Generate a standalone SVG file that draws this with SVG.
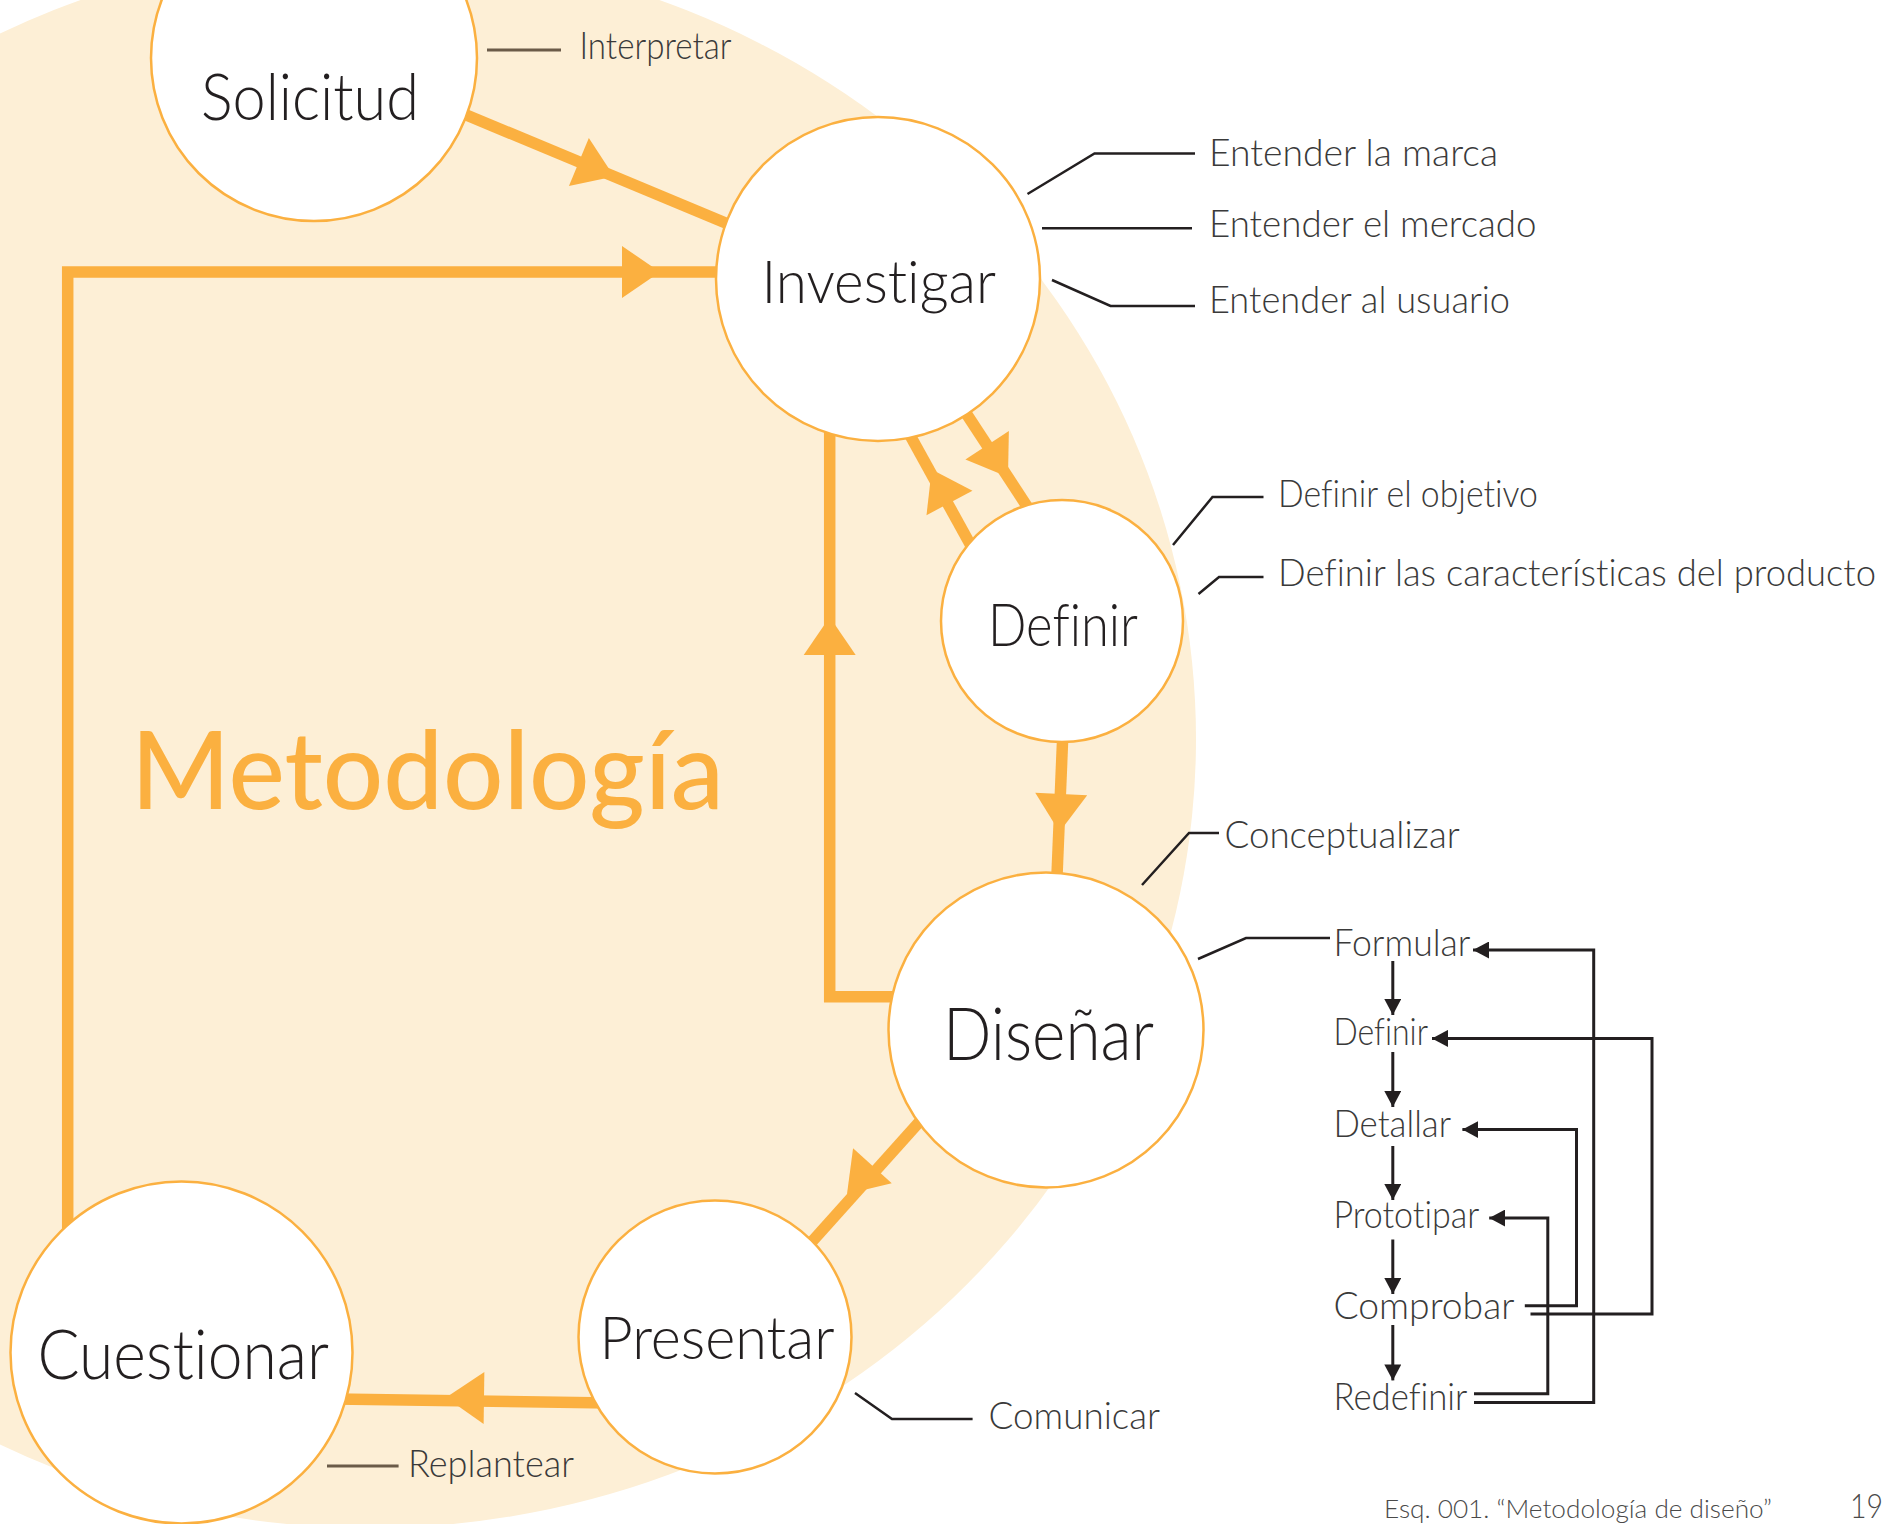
<svg xmlns="http://www.w3.org/2000/svg" xmlns:xlink="http://www.w3.org/1999/xlink" width="1900" height="1524" viewBox="0 0 1900 1524">
  <style>
    text { font-variant-ligatures: none; font-feature-settings: "liga" 0, "clig" 0; }
    .node { fill: #ffffff; stroke: #FBB040; stroke-width: 2.5; }
    .flow { fill: none; stroke: #FBB040; stroke-width: 11.5; stroke-linejoin: miter; }
    .lead { fill: none; stroke: #231F20; stroke-width: 2.5; }
    .leadb { fill: none; stroke: #6B5B48; stroke-width: 3; }
    .fb { fill: none; stroke: #231F20; stroke-width: 3; }
    .nl { font-family: "Lato", "Liberation Sans", sans-serif; font-weight: 300; fill: #231F20; }
    .lb { font-family: "Lato", "Liberation Sans", sans-serif; font-weight: 300; fill: #3A3A3A; font-size: 37px; }
    .sl { font-family: "Lato", "Liberation Sans", sans-serif; font-weight: 300; fill: #3A3A3A; font-size: 38px; }
    .title { font-family: "Lato", "Liberation Sans", sans-serif; font-weight: 500; fill: #FBB040; font-size: 108px; }
    .foot { font-family: "Lato", "Liberation Sans", sans-serif; font-weight: 300; fill: #4A4A4A; }
  </style>
  <defs>
    <path id="ah" d="M0,0 L-38,-26 L-38,26 Z" fill="#FBB040"/>
    <marker id="bk" markerUnits="userSpaceOnUse" markerWidth="17" markerHeight="17" refX="16" refY="8.5" orient="auto">
      <path d="M0,0 L16,8.5 L0,17 Z" fill="#231F20"/>
    </marker>
  </defs>

  <ellipse id="background" cx="370" cy="739" rx="826" ry="789" fill="#FDEFD6"/>

  <g id="connectors">
    <line class="flow" x1="440" y1="104" x2="740" y2="229"/>
    <use href="#ah" transform="translate(614,176.5) rotate(22.5)"/>
    <polyline class="flow" points="67.7,1240 67.7,272 720,272"/>
    <use href="#ah" transform="translate(660,272)"/>
    <polyline class="flow" points="900,996.7 829.7,996.7 829.7,425"/>
    <use href="#ah" transform="translate(829.7,617) rotate(-90)"/>
    <line class="flow" x1="960" y1="404" x2="1034" y2="517"/>
    <use href="#ah" transform="translate(1008,477) rotate(56.7)"/>
    <line class="flow" x1="975" y1="553" x2="906" y2="428"/>
    <use href="#ah" transform="translate(931.7,469.4) rotate(-117.9)"/>
    <line class="flow" x1="1063" y1="730" x2="1056.6" y2="885"/>
    <use href="#ah" transform="translate(1059.5,832) rotate(92.6)"/>
    <line class="flow" x1="930" y1="1110" x2="800" y2="1255"/>
    <use href="#ah" transform="translate(847,1194) rotate(131.96)"/>
    <line class="flow" x1="610" y1="1403" x2="335" y2="1399"/>
    <use href="#ah" transform="translate(446,1397.5) rotate(180.8)"/>

    <line class="leadb" x1="487" y1="50" x2="561" y2="50"/>
    <polyline class="lead" points="1027.5,194 1094.5,153.5 1195,153.5"/>
    <line class="lead" x1="1042" y1="228.3" x2="1192" y2="228.3"/>
    <polyline class="lead" points="1052,280 1110.5,306 1195,306"/>
    <polyline class="lead" points="1173,545 1212.5,497 1263.5,497"/>
    <polyline class="lead" points="1198.5,594 1219,577 1263.5,577"/>
    <polyline class="lead" points="1142,885 1189,833 1219,833"/>
    <polyline class="lead" points="1198,959 1246,938 1330,938"/>
    <polyline class="lead" points="855,1393 892,1419 972.6,1419"/>
    <line class="leadb" x1="327" y1="1466" x2="398.6" y2="1466"/>

    <line class="fb" x1="1392.8" y1="961" x2="1392.8" y2="1015" marker-end="url(#bk)"/>
    <line class="fb" x1="1392.8" y1="1052" x2="1392.8" y2="1107" marker-end="url(#bk)"/>
    <line class="fb" x1="1392.8" y1="1146" x2="1392.8" y2="1200" marker-end="url(#bk)"/>
    <line class="fb" x1="1392.8" y1="1239.5" x2="1392.8" y2="1294" marker-end="url(#bk)"/>
    <line class="fb" x1="1392.8" y1="1325" x2="1392.8" y2="1380.4" marker-end="url(#bk)"/>

    <path class="fb" d="M1474,1402.4 H1593.7 V950 H1473" marker-end="url(#bk)"/>
    <path class="fb" d="M1530.5,1314 H1652 V1038.4 H1432" marker-end="url(#bk)"/>
    <path class="fb" d="M1524.8,1305.8 H1576.5 V1129.6 H1462.4" marker-end="url(#bk)"/>
    <path class="fb" d="M1474,1393.7 H1547.8 V1218 H1489.2" marker-end="url(#bk)"/>
  </g>

  <g id="node-solicitud">
    <circle class="node" cx="314" cy="58" r="163"/>
    <text class="nl" x="201" y="120" font-size="65" textLength="218" lengthAdjust="spacingAndGlyphs">Solicitud</text>
  </g>
  <g id="node-investigar">
    <circle class="node" cx="878" cy="279" r="162"/>
    <text class="nl" x="761.5" y="302.5" font-size="60" textLength="234.5" lengthAdjust="spacingAndGlyphs">Investigar</text>
  </g>
  <g id="node-definir">
    <circle class="node" cx="1062" cy="621" r="121"/>
    <text class="nl" x="988" y="645.7" font-size="60" textLength="150" lengthAdjust="spacingAndGlyphs">Definir</text>
  </g>
  <g id="node-disenar">
    <circle class="node" cx="1046" cy="1030" r="157.5"/>
    <text class="nl" x="943" y="1060" font-size="72" textLength="211" lengthAdjust="spacingAndGlyphs">Diseñar</text>
  </g>
  <g id="node-presentar">
    <circle class="node" cx="715" cy="1337" r="136.5"/>
    <text class="nl" x="599.5" y="1359" font-size="60" textLength="235" lengthAdjust="spacingAndGlyphs">Presentar</text>
  </g>
  <g id="node-cuestionar">
    <circle class="node" cx="181.5" cy="1352.5" r="171"/>
    <text class="nl" x="37.5" y="1379" font-size="68" textLength="291.5" lengthAdjust="spacingAndGlyphs">Cuestionar</text>
  </g>

  <g id="labels">
    <text class="lb" x="579.5" y="59.3" textLength="152" lengthAdjust="spacingAndGlyphs">Interpretar</text>
    <text class="lb" x="1209" y="166" textLength="289" lengthAdjust="spacingAndGlyphs">Entender la marca</text>
    <text class="lb" x="1209" y="237.3" textLength="327.5" lengthAdjust="spacingAndGlyphs">Entender el mercado</text>
    <text class="lb" x="1209" y="313" textLength="301" lengthAdjust="spacingAndGlyphs">Entender al usuario</text>
    <text class="lb" x="1278" y="507.3" textLength="260" lengthAdjust="spacingAndGlyphs">Definir el objetivo</text>
    <text class="lb" x="1278" y="585.7" textLength="598" lengthAdjust="spacingAndGlyphs">Definir las características del producto</text>
    <text class="sl" x="1224.4" y="847.7" textLength="235.3" lengthAdjust="spacingAndGlyphs">Conceptualizar</text>
    <text class="sl" x="1333.4" y="955.5" textLength="137" lengthAdjust="spacingAndGlyphs">Formular</text>
    <text class="sl" x="1333.4" y="1045.4" textLength="94.6" lengthAdjust="spacingAndGlyphs">Definir</text>
    <text class="sl" x="1333.4" y="1136.6" textLength="117.6" lengthAdjust="spacingAndGlyphs">Detallar</text>
    <text class="sl" x="1333.4" y="1227.9" textLength="145.8" lengthAdjust="spacingAndGlyphs">Prototipar</text>
    <text class="sl" x="1333.4" y="1319" textLength="181" lengthAdjust="spacingAndGlyphs">Comprobar</text>
    <text class="sl" x="1333.4" y="1409.5" textLength="134" lengthAdjust="spacingAndGlyphs">Redefinir</text>
    <text class="lb" x="988.5" y="1429" textLength="171.5" lengthAdjust="spacingAndGlyphs">Comunicar</text>
    <text class="lb" x="408" y="1477" textLength="166" lengthAdjust="spacingAndGlyphs">Replantear</text>
    <text class="title" x="131" y="809" textLength="593" lengthAdjust="spacingAndGlyphs">Metodología</text>
    <text class="foot" x="1384" y="1518" font-size="26" textLength="388" lengthAdjust="spacingAndGlyphs">Esq. 001. “Metodología de diseño”</text>
    <text class="foot" x="1850" y="1518" font-size="33" fill="#231F20" textLength="33" lengthAdjust="spacingAndGlyphs">19</text>
  </g>
</svg>
